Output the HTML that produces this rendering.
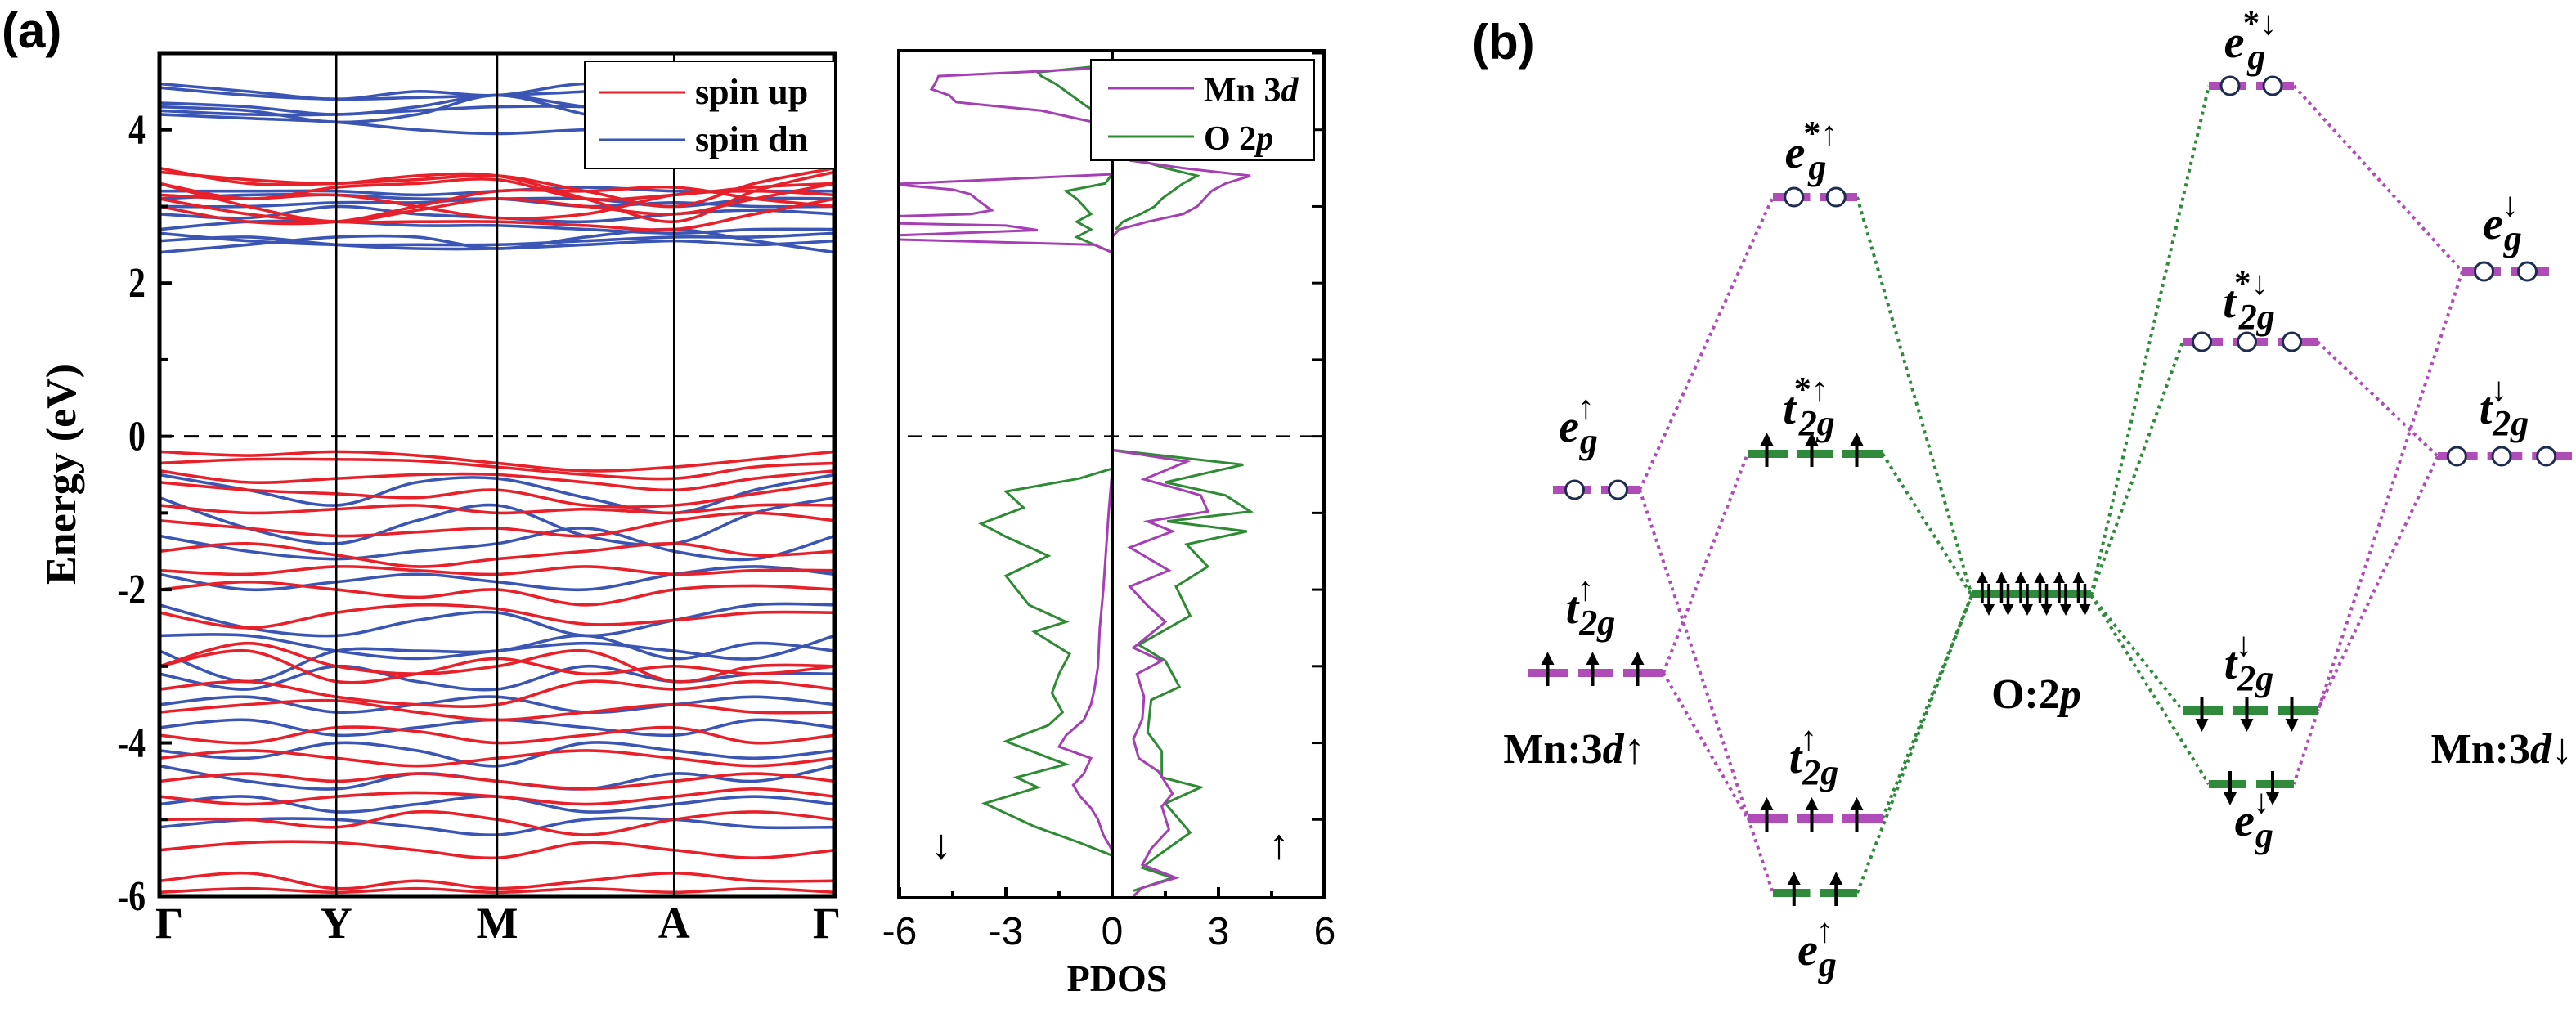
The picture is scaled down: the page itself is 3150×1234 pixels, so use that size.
<!DOCTYPE html>
<html><head><meta charset="utf-8">
<style>
html,body{margin:0;padding:0;background:#fff;}
svg{display:block;}
.ser{font-family:"Liberation Serif",serif;font-weight:bold;}
.san{font-family:"Liberation Sans",sans-serif;}
</style></head>
<body>
<svg id="fig" width="3150" height="1234" viewBox="0 0 3150 1234" xmlns="http://www.w3.org/2000/svg">
<text x="2" y="58" class="san" font-size="60" font-weight="bold">(a)</text>
<text x="1800" y="72" class="san" font-size="60" font-weight="bold">(b)</text>
<g id="bands"></g>
<g id="pdos"></g>
<g id="mo"></g>
</svg>
<script>
// ---------- Band structure data ----------
const kNodes = [0, 1.0, 1.91, 2.91, 3.82];
const kLabels = ["Γ","Y","M","A","Γ"];
const eTicks = [4,2,0,-2,-4,-6];
const upBands = [
[3.5,3.3,3.3,3.35,3.4,3.2,3.0,3.3,3.5],
[3.45,3.35,3.3,3.4,3.4,3.1,2.8,3.2,3.45],
[3.3,3.1,3.25,3.3,3.35,3.1,3.15,3.25,3.3],
[3.3,3.0,2.8,2.95,3.1,3.0,2.9,3.1,3.3],
[3.15,3.1,3.15,3.0,2.85,2.9,3.15,3.2,3.15],
[3.1,2.9,2.8,2.8,2.8,2.75,2.7,2.9,3.1],
[3.0,2.8,2.8,3.0,3.2,3.2,3.25,3.1,3.0],
[-0.2,-0.25,-0.2,-0.25,-0.35,-0.45,-0.4,-0.3,-0.2],
[-0.35,-0.3,-0.3,-0.32,-0.4,-0.5,-0.55,-0.4,-0.35],
[-0.45,-0.6,-0.55,-0.5,-0.5,-0.6,-0.7,-0.55,-0.45],
[-0.6,-0.7,-0.75,-0.8,-0.7,-0.9,-0.9,-0.75,-0.6],
[-0.9,-1.0,-0.95,-0.9,-1.0,-0.95,-1.0,-0.9,-0.9],
[-1.1,-1.2,-1.3,-1.25,-1.2,-1.3,-1.1,-1.0,-1.1],
[-1.5,-1.4,-1.55,-1.7,-1.6,-1.5,-1.4,-1.55,-1.5],
[-1.75,-1.8,-1.7,-1.75,-1.8,-1.7,-1.8,-1.75,-1.75],
[-2.0,-1.9,-2.0,-2.1,-2.0,-2.2,-2.0,-1.95,-2.0],
[-2.3,-2.5,-2.3,-2.2,-2.25,-2.45,-2.4,-2.3,-2.3],
[-3.0,-2.7,-3.0,-3.1,-3.0,-2.8,-3.2,-3.0,-3.0],
[-3.0,-2.8,-3.2,-3.1,-2.9,-3.1,-3.0,-3.1,-3.0],
[-3.3,-3.2,-3.4,-3.5,-3.5,-3.2,-3.3,-3.2,-3.3],
[-3.6,-3.5,-3.45,-3.6,-3.7,-3.6,-3.5,-3.6,-3.6],
[-3.9,-4.0,-3.8,-3.85,-4.0,-3.9,-3.8,-4.0,-3.9],
[-4.2,-4.1,-4.2,-4.3,-4.2,-4.1,-4.2,-4.3,-4.2],
[-4.5,-4.4,-4.5,-4.4,-4.5,-4.6,-4.5,-4.4,-4.5],
[-4.7,-4.8,-4.7,-4.65,-4.7,-4.8,-4.7,-4.6,-4.7],
[-5.0,-5.0,-5.1,-4.9,-5.0,-5.2,-5.0,-4.9,-5.0],
[-5.4,-5.3,-5.3,-5.4,-5.5,-5.3,-5.4,-5.5,-5.4],
[-5.8,-5.7,-5.9,-5.8,-5.9,-5.8,-5.7,-5.8,-5.8],
[-5.95,-5.9,-5.95,-5.9,-5.95,-5.9,-5.95,-5.9,-5.95]
];
const dnBands = [
[4.6,4.5,4.4,4.5,4.45,4.6,4.5,4.5,4.6],
[4.55,4.45,4.4,4.42,4.45,4.5,4.6,4.5,4.55],
[4.35,4.3,4.2,4.3,4.45,4.3,4.2,4.3,4.35],
[4.3,4.25,4.1,4.2,4.45,4.2,4.0,4.2,4.3],
[4.2,4.15,4.1,4.0,3.95,4.0,4.0,4.1,4.2],
[4.25,4.2,4.2,4.25,4.3,4.3,4.25,4.25,4.25],
[3.2,3.2,3.2,3.15,3.2,3.25,3.2,3.2,3.2],
[3.1,3.15,3.15,3.1,3.1,3.1,3.0,3.1,3.1],
[3.0,3.0,3.05,3.05,3.1,3.0,3.05,3.0,3.0],
[2.9,2.85,3.0,2.9,2.85,2.8,2.9,2.95,2.9],
[2.7,2.8,2.8,2.75,2.75,2.7,2.65,2.7,2.7],
[2.65,2.55,2.5,2.5,2.5,2.55,2.6,2.6,2.65],
[2.55,2.6,2.5,2.45,2.45,2.5,2.55,2.5,2.55],
[2.4,2.5,2.6,2.6,2.45,2.6,2.7,2.55,2.4],
[-0.5,-0.7,-0.9,-0.6,-0.55,-0.8,-1.0,-0.7,-0.5],
[-0.8,-1.2,-1.4,-1.1,-0.9,-1.3,-1.4,-1.0,-0.8],
[-1.3,-1.5,-1.6,-1.5,-1.4,-1.2,-1.5,-1.6,-1.3],
[-1.8,-2.0,-1.9,-1.8,-1.9,-2.0,-1.8,-1.7,-1.8],
[-2.2,-2.5,-2.6,-2.4,-2.3,-2.6,-2.4,-2.2,-2.2],
[-2.6,-2.6,-2.8,-2.9,-2.8,-2.7,-2.8,-2.9,-2.6],
[-2.8,-3.2,-2.8,-2.8,-2.8,-2.6,-2.9,-2.7,-2.8],
[-3.1,-3.3,-3.0,-3.2,-3.3,-3.0,-3.2,-3.1,-3.1],
[-3.5,-3.4,-3.6,-3.5,-3.4,-3.6,-3.5,-3.4,-3.5],
[-3.8,-3.7,-3.9,-3.8,-3.7,-3.8,-3.9,-3.7,-3.8],
[-4.1,-4.2,-4.0,-4.1,-4.3,-4.0,-4.1,-4.2,-4.1],
[-4.3,-4.5,-4.6,-4.4,-4.5,-4.6,-4.4,-4.5,-4.3],
[-4.8,-4.7,-4.9,-4.8,-4.7,-4.9,-4.8,-4.7,-4.8],
[-5.1,-5.0,-5.0,-5.1,-5.2,-5.0,-5.0,-5.1,-5.1]
];
// ---------- PDOS data (energy, value) ----------
const mnUpE = [2.6,2.7,2.8,2.9,3.0,3.1,3.2,3.3,3.4,3.5,3.6,3.7,-0.18,-0.33,-0.56,-0.77,-0.98,-1.11,-1.24,-1.45,-1.75,-1.96,-2.21,-2.42,-2.76,-2.93,-3.1,-3.4,-3.69,-3.95,-4.2,-4.37,-4.66,-4.83,-5.13,-5.38,-5.59,-5.76,-5.89,-6.0];
const mnUpV = [0,0.2,1.0,2.0,2.4,2.6,2.8,3.2,3.9,2.0,0.5,0.2,0,2.1,0.9,2.5,2.7,1.0,1.7,0.5,1.6,0.5,1.0,1.5,0.6,1.4,0.7,0.9,0.85,0.6,0.75,1.3,1.7,1.4,1.6,1.1,0.85,1.8,0.85,0.6];
const oUpE = [2.7,2.8,2.9,3.0,3.1,3.2,3.3,3.4,3.5,3.6,-0.18,-0.37,-0.6,-0.77,-0.98,-1.11,-1.24,-1.41,-1.7,-1.96,-2.34,-2.72,-2.93,-3.27,-3.44,-3.86,-4.11,-4.45,-4.58,-4.79,-5.17,-5.5,-5.63,-5.76,-5.93];
const oUpV = [0.1,0.3,0.8,1.2,1.4,1.7,2.0,2.4,1.5,0.8,0.05,3.7,1.5,3.2,3.9,1.55,3.8,2.1,2.7,1.8,2.2,0.75,1.5,1.9,1.1,1.0,1.4,1.4,2.5,1.5,2.2,1.2,0.85,1.7,0.6];
const mnDnE = [4.81,4.7,4.6,4.53,4.45,4.36,4.25,4.14,4.05,3.42,3.29,3.22,3.16,3.05,2.95,2.9,2.87,2.78,2.75,2.69,2.62,2.57,2.5,2.4,-0.45,-1.0,-2.0,-2.5,-3.0,-3.3,-3.5,-3.7,-3.9,-4.05,-4.2,-4.4,-4.55,-4.7,-4.85,-5.0,-5.2,-5.4];
const mnDnV = [0,-4.9,-5.0,-5.1,-4.6,-4.4,-2.0,-0.93,0,0,-6.2,-4.5,-4.0,-3.7,-3.4,-4.0,-6.2,-6.2,-3.0,-2.1,-6.2,-6.2,-0.5,0,0,-0.1,-0.25,-0.35,-0.4,-0.5,-0.6,-0.8,-1.3,-1.5,-0.6,-0.8,-1.1,-0.9,-0.6,-0.4,-0.25,0];
const oDnE = [4.85,4.75,4.7,4.6,4.5,4.4,4.3,4.2,4.1,3.42,3.3,3.2,3.1,3.0,2.9,2.8,2.7,2.6,2.5,2.4,-0.42,-0.55,-0.72,-0.93,-1.14,-1.31,-1.56,-1.82,-2.2,-2.42,-2.55,-2.84,-3.1,-3.35,-3.6,-3.77,-3.98,-4.28,-4.45,-4.58,-4.79,-5.09,-5.3,-5.47];
const oDnV = [0,-2.1,-2.0,-1.6,-1.3,-1.0,-0.7,-0.3,0,0,-0.2,-1.3,-1.0,-0.8,-0.6,-1.0,-0.6,-1.0,-0.5,0,0,-0.93,-3.0,-2.5,-3.7,-3.0,-1.8,-3.0,-2.35,-1.3,-2.2,-1.2,-1.5,-1.7,-1.4,-1.8,-3.0,-1.3,-2.7,-2.1,-3.6,-2.2,-0.93,0];
const pdosTicks = [-6,-3,0,3,6];

const NS = "http://www.w3.org/2000/svg";
function mk(parent, tag, attrs){const e=document.createElementNS(NS,tag);for(const k in attrs)e.setAttribute(k,attrs[k]);parent.appendChild(e);return e;}

const yE = E => 1096 - (E + 6) * (1096 - 65) / 11;
const xK = k => 195 + k * (1021 - 195) / 3.82;
const xP = v => 1360 + v * (1619 - 1099) / 12;

const gb = document.getElementById('bands');
const clipB = mk(gb,'clipPath',{id:'cb'}); mk(clipB,'rect',{x:195,y:65,width:826,height:1031});
function smoothPath(pts){
  let d = `M${pts[0][0]},${pts[0][1]}`;
  for(let i=0;i<pts.length-1;i++){
    const p0=pts[Math.max(i-1,0)],p1=pts[i],p2=pts[i+1],p3=pts[Math.min(i+2,pts.length-1)];
    const c1=[p1[0]+(p2[0]-p0[0])/6,p1[1]+(p2[1]-p0[1])/6];
    const c2=[p2[0]-(p3[0]-p1[0])/6,p2[1]-(p3[1]-p1[1])/6];
    d+=` C${c1[0]},${c1[1]} ${c2[0]},${c2[1]} ${p2[0]},${p2[1]}`;
  }
  return d;
}
function kSample(i){const n=Math.floor(i/2);return i%2===0?kNodes[n]:(kNodes[n]+kNodes[n+1])/2;}
const bandLayer = mk(gb,'g',{'clip-path':'url(#cb)'});
function drawBands(arr,color,name){
  arr.forEach((b)=>{
    const pts=b.map((E,i)=>[xK(kSample(i)),yE(E)]);
    const p=mk(bandLayer,'path',{d:smoothPath(pts),fill:'none',stroke:color,'stroke-width':3.6});
    
    
  });
}
drawBands(dnBands,'#3a55b4','band-spin-dn');
drawBands(upBands,'#e8202a','band-spin-up');
kNodes.slice(1,4).forEach(k=>{const l=mk(gb,'line',{x1:xK(k),x2:xK(k),y1:65,y2:1096,stroke:'#000','stroke-width':2.5});
  });
const fb=mk(gb,'line',{x1:195,x2:1021,y1:yE(0),y2:yE(0),stroke:'#000','stroke-width':3,'stroke-dasharray':'18 12'});
 
const fr=mk(gb,'rect',{x:195,y:65,width:826,height:1031,fill:'none',stroke:'#000','stroke-width':5});
 
for(let E=-6;E<=5;E++){mk(gb,'line',{x1:195,x2:E%2===0?210:205,y1:yE(E),y2:yE(E),stroke:'#000','stroke-width':4});}
eTicks.forEach(E=>{const t=mk(gb,'text',{x:178,y:yE(E)+17,'text-anchor':'end','font-size':52,class:'ser',transform:`scale(0.8,1) translate(${178*0.25},0)`});t.textContent=E;
  });
kNodes.forEach((k,i)=>{const t=mk(gb,'text',{x:xK(k)+(i===0?12:i===4?-10:0),y:1147,'text-anchor':'middle','font-size':54,class:'ser'});t.textContent=kLabels[i];
  });
const yl=mk(gb,'text',{x:0,y:0,'text-anchor':'middle','font-size':52,class:'ser',transform:'translate(92,580) rotate(-90)'});yl.textContent='Energy (eV)';
 
const lg=mk(gb,'g',{});
 
mk(lg,'rect',{x:715,y:75,width:306,height:131,fill:'#fff',stroke:'#000','stroke-width':2});
mk(lg,'line',{x1:733,x2:838,y1:113,y2:113,stroke:'#e8202a','stroke-width':3});
mk(lg,'line',{x1:733,x2:838,y1:171,y2:171,stroke:'#3a55b4','stroke-width':3});
let t1=mk(lg,'text',{x:850,y:127,'font-size':44,class:'ser'});t1.textContent='spin up';
let t2=mk(lg,'text',{x:850,y:185,'font-size':44,class:'ser'});t2.textContent='spin dn';

const gp=document.getElementById('pdos');
const clipP=mk(gp,'clipPath',{id:'cp'});mk(clipP,'rect',{x:1099,y:62,width:520,height:1036});
const pl=mk(gp,'g',{'clip-path':'url(#cp)'});
function pdosLine(E,V,color,name){
  let segs=[[]];
  for(let i=0;i<E.length;i++){
    if(i>0 && Math.abs(E[i]-E[i-1])>1.5){segs.push([]);}
    segs[segs.length-1].push(xP(V[i])+','+yE(E[i]));
  }
  segs.forEach(s=>{const p=mk(pl,'polyline',{points:s.join(' '),fill:'none',stroke:color,'stroke-width':3});
     });
}
pdosLine(oDnE,oDnV,'#2e8b34','o2p-spin-dn');
pdosLine(mnDnE,mnDnV,'#a43fb4','mn3d-spin-dn');
pdosLine(oUpE,oUpV,'#2e8b34','o2p-spin-up');
pdosLine(mnUpE,mnUpV,'#a43fb4','mn3d-spin-up');
const fp=mk(gp,'line',{x1:1110,x2:1619,y1:yE(0),y2:yE(0),stroke:'#000','stroke-width':2.5,'stroke-dasharray':'18 12'});
 
mk(gp,'line',{x1:xP(0),x2:xP(0),y1:62,y2:1098,stroke:'#000','stroke-width':4});
const pf=mk(gp,'rect',{x:1099,y:62,width:520,height:1036,fill:'none',stroke:'#000','stroke-width':4});
 
for(let E=-5;E<=5;E++){mk(gp,'line',{x1:1619,x2:1604,y1:yE(E),y2:yE(E),stroke:'#000','stroke-width':3});}
for(let v=-6;v<=6;v+=1.5){mk(gp,'line',{x1:xP(v),x2:xP(v),y1:1098,y2:Number.isInteger(v/3)?1085:1090,stroke:'#000','stroke-width':4});}
pdosTicks.forEach(v=>{const t=mk(gp,'text',{x:xP(v),y:1155,'text-anchor':'middle','font-size':48,class:'san'});t.textContent=(v<0?'-':'')+Math.abs(v);
  });
const xl=mk(gp,'text',{x:1366,y:1212,'text-anchor':'middle','font-size':46,class:'ser'});xl.textContent='PDOS';
 
const ad=mk(gp,'text',{x:1151,y:1050,'text-anchor':'middle','font-size':52,class:'ser'});ad.textContent='↓';
const au=mk(gp,'text',{x:1564,y:1050,'text-anchor':'middle','font-size':52,class:'ser'});au.textContent='↑';
const pg=mk(gp,'g',{});
 
mk(pg,'rect',{x:1334,y:73,width:273,height:123,fill:'#fff',stroke:'#000','stroke-width':2});
mk(pg,'line',{x1:1355,x2:1460,y1:108,y2:108,stroke:'#a43fb4','stroke-width':3});
mk(pg,'line',{x1:1355,x2:1460,y1:167,y2:167,stroke:'#2e8b34','stroke-width':3});
const pt1=mk(pg,'text',{x:1472,y:124,'font-size':42,class:'ser'});pt1.innerHTML='Mn 3<tspan font-style="italic">d</tspan>';
const pt2=mk(pg,'text',{x:1472,y:183,'font-size':42,class:'ser'});pt2.innerHTML='O 2<tspan font-style="italic">p</tspan>';
</script>

<script>
(function(){
const NS="http://www.w3.org/2000/svg";
const g=document.getElementById('mo');
function mk(p,t,a){const e=document.createElementNS(NS,t);for(const k in a)e.setAttribute(k,a[k]);p.appendChild(e);return e;}
const MAG='#b04cb8', GRN='#2f8a3c';
function conn(x1,y1,x2,y2,c){const l=mk(g,'line',{x1,y1,x2,y2,stroke:c,'stroke-width':4,'stroke-dasharray':'4 5'});
  }
conn(2005,599,2168,241,MAG); conn(2005,599,2168,1092,MAG);
conn(2034,823,2137,555,MAG); conn(2034,823,2137,1001,MAG);
conn(2271,241,2411,728,GRN); conn(2302,555,2411,728,GRN); conn(2302,1001,2411,728,GRN); conn(2271,1092,2411,728,GRN);
conn(2557,728,2701,105,GRN); conn(2557,728,2669,418,GRN); conn(2557,728,2669,869,GRN); conn(2557,728,2701,959,GRN);
conn(2805,105,3011,332,MAG); conn(3011,332,2805,959,MAG);
conn(2834,418,2981,558,MAG); conn(2981,558,2834,869,MAG);
function level(x1,x2,y,c,n,kind,name){
  const grp=mk(g,'g',{});
  
  
  const w=(x2-x1)/n;
  for(let i=0;i<n;i++){mk(grp,'line',{x1:x1+i*w+ (i?6:0),x2:x1+(i+1)*w-(i<n-1?6:0),y1:y,y2:y,stroke:c,'stroke-width':10});}
  for(let i=0;i<n;i++){
    const cx=x1+w*(i+0.5)-(n===3?4:0);
    if(kind==='o'){mk(grp,'circle',{cx,cy:y,r:11,fill:'#fff',stroke:'#1e2d4f','stroke-width':3});}
    else if(kind==='u'){mk(grp,'line',{x1:cx,x2:cx,y1:y+16,y2:y-12,stroke:'#000','stroke-width':4});mk(grp,'polygon',{points:`${cx-8},${y-10} ${cx+8},${y-10} ${cx},${y-26}`,fill:'#000'});}
    else if(kind==='d'){mk(grp,'line',{x1:cx,x2:cx,y1:y-16,y2:y+12,stroke:'#000','stroke-width':4});mk(grp,'polygon',{points:`${cx-8},${y+10} ${cx+8},${y+10} ${cx},${y+26}`,fill:'#000'});}
  }
}
level(1899,2005,599,MAG,2,'o','mn-eg-up-level');
level(1869,2034,823,MAG,3,'u','mn-t2g-up-level');
level(2168,2271,241,MAG,2,'o','eg-star-up-level');
level(2137,2302,555,GRN,3,'u','t2g-star-up-level');
level(2137,2302,1001,MAG,3,'u','t2g-up-bonding-level');
level(2168,2271,1092,GRN,2,'u','eg-up-bonding-level');
level(2701,2805,105,MAG,2,'o','eg-star-dn-level');
level(2669,2834,418,MAG,3,'o','t2g-star-dn-level');
level(3011,3117,332,MAG,2,'o','mn-eg-dn-level');
level(2981,3145,558,MAG,3,'o','mn-t2g-dn-level');
level(2669,2834,869,GRN,3,'d','t2g-dn-bonding-level');
level(2701,2805,959,GRN,2,'d','eg-dn-bonding-level');
const og=mk(g,'g',{});
 
mk(og,'line',{x1:2411,x2:2557,y1:726,y2:726,stroke:GRN,'stroke-width':10});
for(let i=0;i<6;i++){const cx=2428+i*23.5;
 mk(og,'line',{x1:cx-4,x2:cx-4,y1:738,y2:712,stroke:'#000','stroke-width':3.5});mk(og,'polygon',{points:`${cx-11},${713} ${cx+3},${713} ${cx-4},${699}`,fill:'#000'});
 mk(og,'line',{x1:cx+4,x2:cx+4,y1:714,y2:740,stroke:'#000','stroke-width':3.5});mk(og,'polygon',{points:`${cx-3},${739} ${cx+11},${739} ${cx+4},${753}`,fill:'#000'});}
function lab(cx,y,letter,sup,sub,name){
  const t=mk(g,'text',{x:cx,y,'text-anchor':'middle','font-family':'"Liberation Serif","DejaVu Serif",serif','font-weight':'bold','font-size':56});
   
  t.innerHTML=`<tspan font-style="italic">${letter}</tspan><tspan font-size="42" dy="-28" dx="-2">${sup}</tspan><tspan font-size="44" font-style="italic" dy="42" dx="${-sup.length*18}">${sub}</tspan>`;
}
lab(1930,540,'e','↑','g','label-eg-up');
lab(1945,762,'t','↑','2g','label-t2g-up');
lab(2215,205,'e','*↑','g','label-eg-star-up');
lab(2212,518,'t','*↑','2g','label-t2g-star-up');
lab(2218,945,'t','↑','2g','label-t2g-up-bonding');
lab(2222,1180,'e','↑','g','label-eg-up-bonding');
lab(2752,70,'e','*↓','g','label-eg-star-dn');
lab(2750,388,'t','*↓','2g','label-t2g-star-dn');
lab(3060,292,'e','↓','g','label-eg-dn');
lab(3062,518,'t','↓','2g','label-t2g-dn');
lab(2750,830,'t','↓','2g','label-t2g-dn-bonding');
lab(2756,1022,'e','↓','g','label-eg-dn-bonding');
function plain(x,y,html,name,anchor){const t=mk(g,'text',{x,y,'text-anchor':anchor||'middle','font-family':'"Liberation Serif",serif','font-weight':'bold','font-size':52});t.innerHTML=html;
  }
plain(2490,866,'O:2<tspan font-style="italic">p</tspan>','label-o2p');
plain(1925,933,'Mn:3<tspan font-style="italic">d</tspan>↑','label-mn3d-up');
plain(3146,933,'Mn:3<tspan font-style="italic">d</tspan>↓','label-mn3d-dn','end');
})();
</script>
</body></html>
